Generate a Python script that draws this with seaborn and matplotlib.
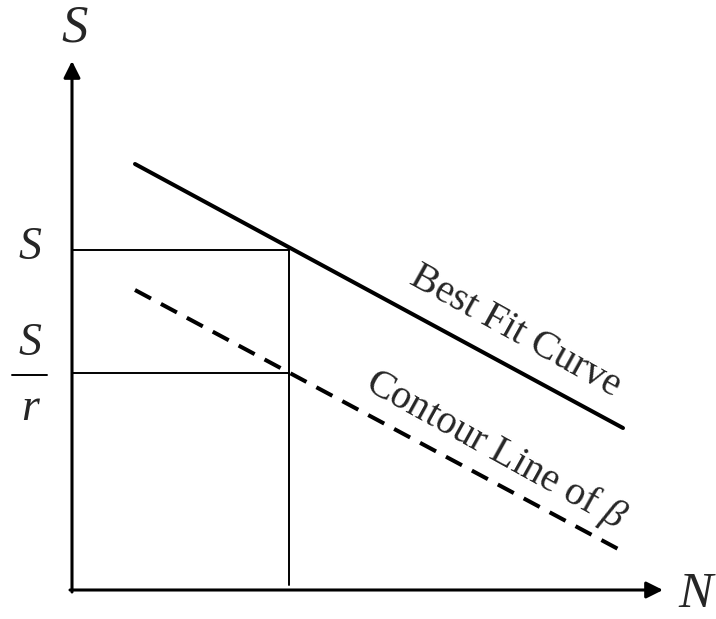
import matplotlib
matplotlib.use("Agg")
import matplotlib.pyplot as plt
from matplotlib import font_manager
import seaborn as sns
import pandas as pd

sns.set_style("white")

# pick a Times-like serif face that is actually present
available = {f.name for f in font_manager.fontManager.ttflist}
serif_face = next((n for n in ["Liberation Serif", "Times New Roman",
                               "Nimbus Roman", "DejaVu Serif"]
                   if n in available), "serif")
plt.rcParams["font.family"] = [serif_face, "DejaVu Serif"]
plt.rcParams["mathtext.fontset"] = "custom"
plt.rcParams["mathtext.it"] = serif_face + ":italic"
plt.rcParams["mathtext.rm"] = serif_face

# S-N schematic: best fit curve and the reliability contour line (beta)
n_fit = [1.26, 11.02]
s_fit = [8.52, 3.24]
n_contour = [1.26, 10.96]
s_contour = [6.0, 0.8]

n_design = 4.34
s_level = 6.8        # stress S
s_reduced = 4.34     # reduced stress S/r
axis_len = [11.82, 10.58]   # arrow lengths along N and S

fit_df = pd.DataFrame({"N": n_fit, "S": s_fit})
contour_df = pd.DataFrame({"N": n_contour, "S": s_contour})

fig = plt.figure(figsize=(7.16, 6.19), dpi=100)
ax = fig.add_axes([0, 0, 1, 1])
ax.set_axis_off()

# axes with arrow heads
arrow = dict(arrowstyle="-|>,head_length=0.5,head_width=0.25", lw=2.2,
             color="black", mutation_scale=20, shrinkA=0, shrinkB=0)
ax.annotate("", xy=(axis_len[0], 0), xytext=(-0.04, 0), arrowprops=arrow)
ax.annotate("", xy=(0, axis_len[1]), xytext=(0, -0.04), arrowprops=arrow)

# guide lines at S and S/r
ax.plot([0, n_design], [s_level, s_level], color="black", lw=1.4)
ax.plot([0, n_design], [s_reduced, s_reduced], color="black", lw=1.4)
ax.plot([n_design, n_design], [0.1, s_level], color="black", lw=1.4)

# curves
sns.lineplot(data=fit_df, x="N", y="S", color="black", linewidth=2.9,
             ax=ax, legend=False)
sns.lineplot(data=contour_df, x="N", y="S", color="black", linewidth=2.9,
             ax=ax, legend=False)
dash_line = ax.lines[-1]
dash_line.set_dashes((4.5, 2.8))
dash_line.set_dash_capstyle("butt")
ax.set_xlim(-1.44, 12.88)
ax.set_ylim(-0.58, 11.8)
ax.set_xlabel("")
ax.set_ylabel("")

txt = dict(family=serif_face)

# curve labels
ax.text(8.86, 5.16, "Best Fit Curve", fontsize=29, rotation=-29,
        rotation_mode="anchor", ha="center", va="center", **txt)
ax.text(8.48, 2.80, r"Contour Line of $\beta$", fontsize=29, rotation=-29,
        rotation_mode="anchor", ha="center", va="center", **txt)

# axis letters
ax.text(0.06, 11.24, "S", fontsize=38, style="italic", ha="center",
        va="center", **txt)
ax.text(12.46, -0.1, "N", fontsize=37, style="italic", ha="center",
        va="center", **txt)

# stress level labels
ax.text(-0.84, s_level + 0.04, "S", fontsize=33, style="italic",
        ha="center", va="center", **txt)
ax.text(-0.84, 4.92, "S", fontsize=33, style="italic", ha="center",
        va="center", **txt)
ax.plot([-1.2, -0.5], [4.3, 4.3], color="black", lw=1.4)
ax.text(-0.84, 3.62, "r", fontsize=33, style="italic", ha="center",
        va="center", **txt)

fig.savefig("out.png", dpi=100)
